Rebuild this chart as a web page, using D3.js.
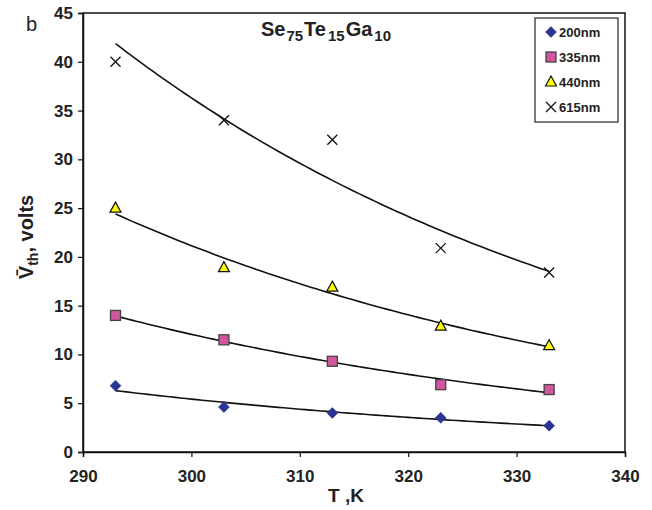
<!DOCTYPE html>
<html>
<head>
<meta charset="utf-8">
<script src="https://cdn.jsdelivr.net/npm/d3@7"></script>
<style>
  body { margin: 0; background: #fff; }
  text { font-family: "Liberation Sans", Arial, sans-serif; }
</style>
</head>
<body>
<div id="chart"></div>
<script>
// data
var temps = [293, 303, 313, 323, 333];
var v200 = [6.8, 4.6, 4.0, 3.5, 2.7];
var v335 = [14.0, 11.5, 9.3, 6.9, 6.4];
var v440 = [25.0, 18.9, 16.9, 12.9, 10.9];
var v615 = [40.0, 34.0, 32.0, 20.9, 18.4];
var seriesNames = ["200nm", "335nm", "440nm", "615nm"];
var xTicks = [290, 300, 310, 320, 330, 340];
var yTicks = [0, 5, 10, 15, 20, 25, 30, 35, 40, 45];

var W = 652, H = 510;
var margin = { top: 13, right: 27, bottom: 58, left: 83 };
var width = W - margin.left - margin.right,
    height = H - margin.top - margin.bottom;

var svg = d3.select("#chart").append("svg")
  .attr("width", W)
  .attr("height", H);

var g = svg.append("g")
  .attr("transform", "translate(" + margin.left + "," + margin.top + ")");

var x = d3.scaleLinear().domain([290, 340]).range([0, width]);
var y = d3.scaleLinear().domain([0, 45]).range([height, 0]);

// frame
g.append("rect")
  .attr("width", width).attr("height", height)
  .attr("fill", "none").attr("stroke", "#111").attr("stroke-width", 1.5);

var xAxis = g.append("g")
  .attr("transform", "translate(0," + height + ")")
  .call(d3.axisBottom(x).tickValues(xTicks).tickSize(5).tickPadding(13).tickFormat(d3.format("d")));
var yAxis = g.append("g")
  .call(d3.axisLeft(y).tickValues(yTicks).tickSize(5).tickPadding(5).tickFormat(d3.format("d")));

[xAxis, yAxis].forEach(function(a) {
  a.select(".domain").attr("stroke", "#111").attr("stroke-width", 1.5);
  a.selectAll(".tick line").attr("stroke", "#111").attr("stroke-width", 1.2);
  a.selectAll(".tick text")
    .attr("fill", "#222")
    .style("font-size", "17px")
    .style("font-weight", "bold")
    .style("font-family", "'Liberation Sans', Arial, sans-serif");
});

// exponential trendline (least squares on ln y)
function expFit(xs, ys) {
  var n = xs.length, mx = d3.mean(xs);
  var ly = ys.map(function(v) { return Math.log(v); });
  var my = d3.mean(ly);
  var num = 0, den = 0;
  for (var i = 0; i < n; i++) {
    num += (xs[i] - mx) * (ly[i] - my);
    den += (xs[i] - mx) * (xs[i] - mx);
  }
  var b = num / den;
  return function(t) { return Math.exp(my + b * (t - mx)); };
}

var allSeries = [v200, v335, v440, v615];
var line = d3.line().x(function(d) { return x(d[0]); }).y(function(d) { return y(d[1]); });

allSeries.forEach(function(vals) {
  var f = expFit(temps, vals);
  var pts = d3.range(temps[0], temps[temps.length - 1] + 0.01, 0.5).map(function(t) { return [t, f(t)]; });
  g.append("path")
    .attr("d", line(pts))
    .attr("fill", "none")
    .attr("stroke", "#111")
    .attr("stroke-width", 1.6);
});

// marker drawing
function drawMarker(sel, kind) {
  if (kind === 0) {
    sel.append("path").attr("d", "M0,-5.5L5.5,0L0,5.5L-5.5,0Z")
      .attr("fill", "#2a3593").attr("stroke", "#2a3593").attr("stroke-width", 0.5);
  } else if (kind === 1) {
    sel.append("rect").attr("x", -5).attr("y", -5).attr("width", 10).attr("height", 10)
      .attr("fill", "#d2559f").attr("stroke", "#444").attr("stroke-width", 1.3);
  } else if (kind === 2) {
    sel.append("path").attr("d", "M0,-6L5.5,4L-5.5,4Z")
      .attr("fill", "#ffff00").attr("stroke", "#111").attr("stroke-width", 1.2);
  } else {
    sel.append("path").attr("d", "M-5,-5L5,5M-5,5L5,-5")
      .attr("fill", "none").attr("stroke", "#111").attr("stroke-width", 1.3);
  }
}

allSeries.forEach(function(vals, k) {
  g.selectAll(".pt" + k)
    .data(vals)
    .enter().append("g")
    .attr("class", "pt" + k)
    .attr("transform", function(d, i) { return "translate(" + x(temps[i]) + "," + y(d) + ")"; })
    .each(function() { drawMarker(d3.select(this), k); });
});

// legend
var leg = svg.append("g").attr("transform", "translate(535,18)");
leg.append("rect").attr("width", 83).attr("height", 104)
  .attr("fill", "#fff").attr("stroke", "#222").attr("stroke-width", 1.2);
seriesNames.forEach(function(name, k) {
  var row = leg.append("g").attr("transform", "translate(16," + (14 + k * 25) + ")");
  drawMarker(row, k);
  row.append("text").attr("x", 8).attr("y", 5)
    .style("font-size", "13px").style("font-weight", "bold").attr("fill", "#222")
    .text(name);
});

// title
var title = svg.append("text")
  .attr("x", 326).attr("y", 36)
  .attr("text-anchor", "middle")
  .style("font-size", "20px").style("font-weight", "bold").attr("fill", "#222");
title.append("tspan").text("Se");
title.append("tspan").attr("dy", 5).attr("dx", 1).style("font-size", "15px").text("75");
title.append("tspan").attr("dy", -5).attr("dx", 1).text("Te");
title.append("tspan").attr("dy", 5).attr("dx", 2).style("font-size", "15px").text("15");
title.append("tspan").attr("dy", -5).attr("dx", 1).text("Ga");
title.append("tspan").attr("dy", 5).attr("dx", 2).style("font-size", "15px").text("10");

// axis titles
svg.append("text")
  .attr("x", margin.left + width / 2 - 8).attr("y", 502)
  .attr("text-anchor", "middle")
  .style("font-size", "19px").style("font-weight", "bold").attr("fill", "#222")
  .text("T ,K");

var yl = svg.append("text")
  .attr("transform", "translate(33,237) rotate(-90)")
  .attr("text-anchor", "middle")
  .style("font-size", "20px").style("font-weight", "bold").attr("fill", "#222");
yl.append("tspan").text("V\u0304");
yl.append("tspan").attr("dy", 5).style("font-size", "14px").text("th");
yl.append("tspan").attr("dy", -5).text(", volts");

// panel letter
svg.append("text")
  .attr("x", 26).attr("y", 31)
  .style("font-size", "20px").attr("fill", "#222")
  .text("b");
</script>
</body>
</html>
